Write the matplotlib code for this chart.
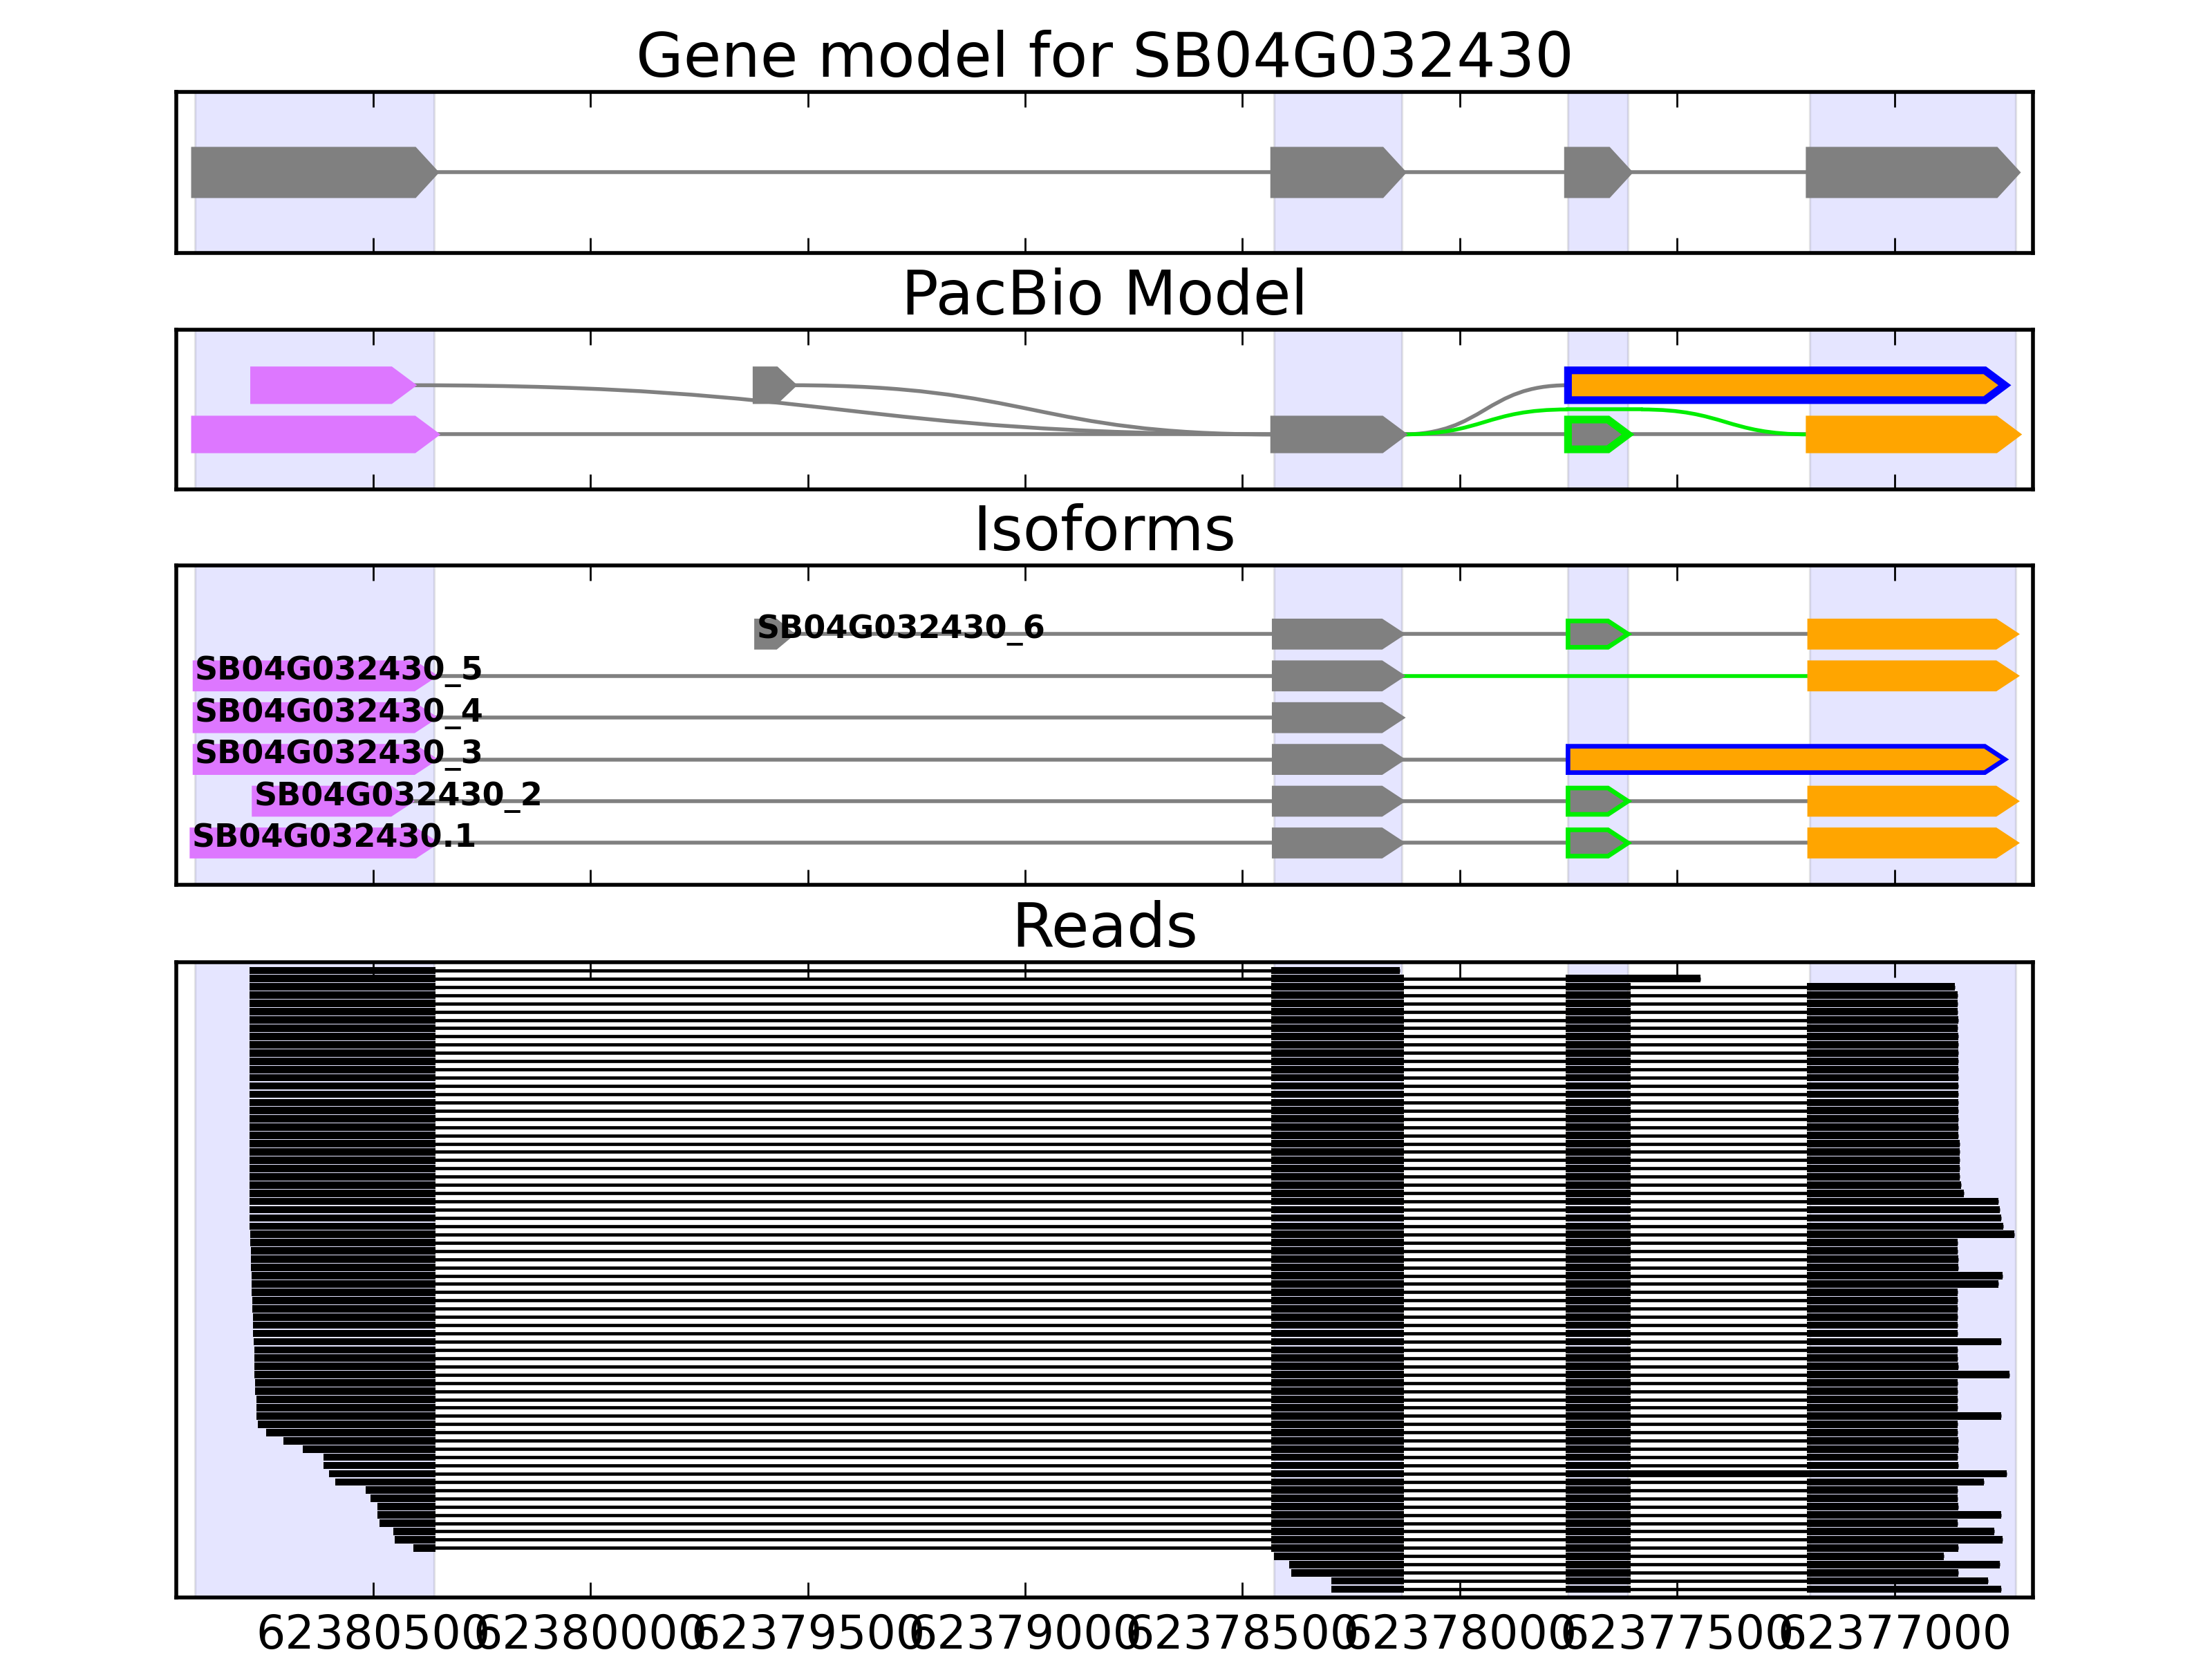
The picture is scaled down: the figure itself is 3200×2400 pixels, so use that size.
import matplotlib
matplotlib.use("Agg")
import matplotlib.pyplot as plt
from matplotlib.patches import Polygon, PathPatch
from matplotlib.path import Path
from matplotlib import ticker

# ---- data -------------------------------------------------------------
GENE = "SB04G032430"
x_range = (62380953, 62376681)
tick_pos = [62380500, 62380000, 62379500, 62379000, 62378500, 62378000, 62377500, 62377000]

# exons (start, end), minus strand so start > end
E1A = (62380910, 62380360)   # first exon
E1B = (62380774, 62380414)   # shorter first exon
E1C = (62380917, 62380357)   # first exon of .1
E0 = (62379618, 62379537)    # small upstream exon (_6)
E2 = (62378427, 62378134)
E3 = (62377751, 62377613)
E3X = (62377751, 62376746)   # exon 3 extended to the end (_3)
E4 = (62377195, 62376721)

gene_exons = [E1A, E2, E3, E4]

iso_names = ["SB04G032430.1", "SB04G032430_2", "SB04G032430_3",
             "SB04G032430_4", "SB04G032430_5", "SB04G032430_6"]
iso_exons = [[E1C, E2, E3, E4],
             [E1B, E2, E3, E4],
             [E1A, E2, E3X],
             [E1A, E2],
             [E1A, E2, E4],
             [E0, E2, E3, E4]]

# reads: start / end of every read (top to bottom)
read_starts = [62380784] * 32 + [
    62380783, 62380783, 62380782, 62380782, 62380781, 62380780, 62380780,
    62380779, 62380778, 62380778, 62380777, 62380776, 62380776, 62380775,
    62380774, 62380774, 62380774, 62380774, 62380772, 62380771, 62380768,
    62380768, 62380768, 62380766, 62380747, 62380707, 62380662, 62380615,
    62380615, 62380601, 62380588, 62380517, 62380506, 62380491, 62380491,
    62380485, 62380453, 62380450, 62380408,
    62378428, 62378393, 62378387, 62378296, 62378296]
read_ends = [
    62378138, 62377446, 62376861, 62376855, 62376855, 62376855, 62376853,
    62376855, 62376853, 62376853, 62376853, 62376853, 62376853, 62376853,
    62376853, 62376853, 62376853, 62376853, 62376853, 62376853, 62376853,
    62376850, 62376850, 62376850, 62376850, 62376850, 62376846, 62376840,
    62376760, 62376758, 62376755, 62376749, 62376724, 62376855, 62376855,
    62376853, 62376853, 62376751, 62376760, 62376855, 62376855, 62376855,
    62376855, 62376855, 62376855, 62376755, 62376855, 62376855, 62376853,
    62376736, 62376855, 62376855, 62376855, 62376855, 62376755, 62376855,
    62376855, 62376853, 62376853, 62376855, 62376853, 62376741, 62376794,
    62376855, 62376855, 62376853, 62376755, 62376855, 62376770, 62376751,
    62376853, 62376886, 62376758, 62376853, 62376784, 62376755]
read_blocks = [(62381000, 62380357), (62378434, 62378128),
               (62377757, 62377607), (62377202, 62376600)]
retained = {1: (62377757, 62377446), 61: (62377757, 62376741)}

# ---- style ------------------------------------------------------------
GRAY = "#808080"
MAGENTA = "#dd77ff"
ORANGE = "#ffa500"
GREEN = "#00ee00"
BLUE = "#0000ff"
TIP = 46


def exon_style(ex):
    if ex in (E1A, E1B, E1C):
        return MAGENTA, MAGENTA
    if ex == E3:
        return GRAY, GREEN
    if ex == E3X:
        return ORANGE, BLUE
    if ex == E4:
        return ORANGE, ORANGE
    return GRAY, GRAY


def draw_exon(ax, ex, y, h, lw, face=None, edge=None):
    start, end = ex
    f, e = exon_style(ex)
    t = min(TIP, 0.45 * (start - end))
    pts = [(start, y - h / 2), (end + t, y - h / 2), (end, y),
           (end + t, y + h / 2), (start, y + h / 2)]
    ax.add_patch(Polygon(pts, closed=True, facecolor=face or f,
                         edgecolor=edge or e, lw=lw, zorder=3))


def s_curve(ax, x0, y0, x1, y1, color, lw=1.0):
    xm = (x0 + x1) / 2.0
    path = Path([(x0, y0), (xm, y0), (xm, y1), (x1, y1)],
                [Path.MOVETO, Path.CURVE4, Path.CURVE4, Path.CURVE4])
    ax.add_patch(PathPatch(path, facecolor="none", edgecolor=color, lw=lw, zorder=2))


def setup(ax, title, labels=False):
    ax.set_xlim(x_range)
    ax.xaxis.set_major_locator(ticker.FixedLocator(tick_pos))
    ax.xaxis.set_major_formatter(ticker.FuncFormatter(lambda v, _: "%d" % v))
    ax.tick_params(axis="x", direction="in", top=True, bottom=True, length=4,
                   width=0.5, labelsize=12, pad=4, labelbottom=labels)
    ax.set_yticks([])
    for sp in ax.spines.values():
        sp.set_linewidth(1.0)
    ax.set_title(title, fontsize=16, pad=4)
    for s, e in gene_exons:
        ax.axvspan(s, e, facecolor="b", edgecolor="k", alpha=0.1, lw=0.6, zorder=0)


fig = plt.figure(figsize=(8, 6), dpi=400)
L, W = 0.0797, 0.8394
ax_gene = fig.add_axes([L, 0.8475, W, 0.0971])
ax_pac = fig.add_axes([L, 0.7052, W, 0.0960])
ax_iso = fig.add_axes([L, 0.4667, W, 0.1925])
ax_reads = fig.add_axes([L, 0.0371, W, 0.3829])

# gene model
setup(ax_gene, "Gene model for %s" % GENE)
ax_gene.set_ylim(0, 1)
ax_gene.plot([gene_exons[0][1], gene_exons[-1][0]], [0.5, 0.5], color=GRAY, lw=1, zorder=2)
for ex in gene_exons:
    draw_exon(ax_gene, ex, 0.5, 0.27, 2, face=GRAY, edge=GRAY)

# PacBio model
setup(ax_pac, "PacBio Model")
ax_pac.set_ylim(0, 1)
up, lo, mid, hp = 0.652, 0.343, 0.5, 0.187
ax_pac.plot([E1A[1], E2[0]], [lo, lo], color=GRAY, lw=1, zorder=2)
ax_pac.plot([E2[1], E4[0]], [lo, lo], color=GRAY, lw=1, zorder=2)
s_curve(ax_pac, E1B[1], up, E2[0], lo, GRAY)
s_curve(ax_pac, E0[1], up, E2[0], lo, GRAY)
s_curve(ax_pac, E2[1], lo, E3X[0], up, GRAY)
s_curve(ax_pac, E2[1], lo, E3[0], mid, GREEN)
ax_pac.plot([E3[0], E3[1] - 30], [mid, mid], color=GREEN, lw=1, zorder=2)
s_curve(ax_pac, E3[1] - 30, mid, E4[0], lo, GREEN)
for ex in (E1B, E0, E3X):
    draw_exon(ax_pac, ex, up, hp, 2)
for ex in (E1A, E2, E3, E4):
    draw_exon(ax_pac, ex, lo, hp, 2)

# isoforms
setup(ax_iso, "Isoforms")
ax_iso.set_ylim(0, 7.645)
for k, (name, exons) in enumerate(zip(iso_names, iso_exons)):
    y = k + 1
    for a, b in zip(exons[:-1], exons[1:]):
        col = GREEN if (a == E2 and b == E4) else GRAY
        ax_iso.plot([a[1], b[0]], [y, y], color=col, lw=1, zorder=2)
    for ex in exons:
        draw_exon(ax_iso, ex, y, 0.63, 1.2)
    ax_iso.text(exons[0][0], y + 0.1, name, ha="left", va="center",
                fontsize=8.3, fontweight="bold", zorder=5)

# reads
setup(ax_reads, "Reads", labels=True)
n = len(read_starts)
ax_reads.set_ylim(n, -1)
ax_reads.hlines(range(n), read_ends, read_starts, color="k", lw=0.85, zorder=2)
bar_y, bar_left, bar_w = [], [], []
for i, (s, e) in enumerate(zip(read_starts, read_ends)):
    for k, (bs, be) in enumerate(read_blocks):
        if k == 2 and i in retained:
            bs, be = retained[i]
        hi, lo_ = min(bs, s), max(be, e)
        if hi > lo_:
            bar_y.append(i)
            bar_left.append(lo_)
            bar_w.append(hi - lo_)
ax_reads.barh(bar_y, bar_w, left=bar_left, height=0.9, color="k", lw=0, zorder=3)

fig.savefig("out.png", dpi=400)
